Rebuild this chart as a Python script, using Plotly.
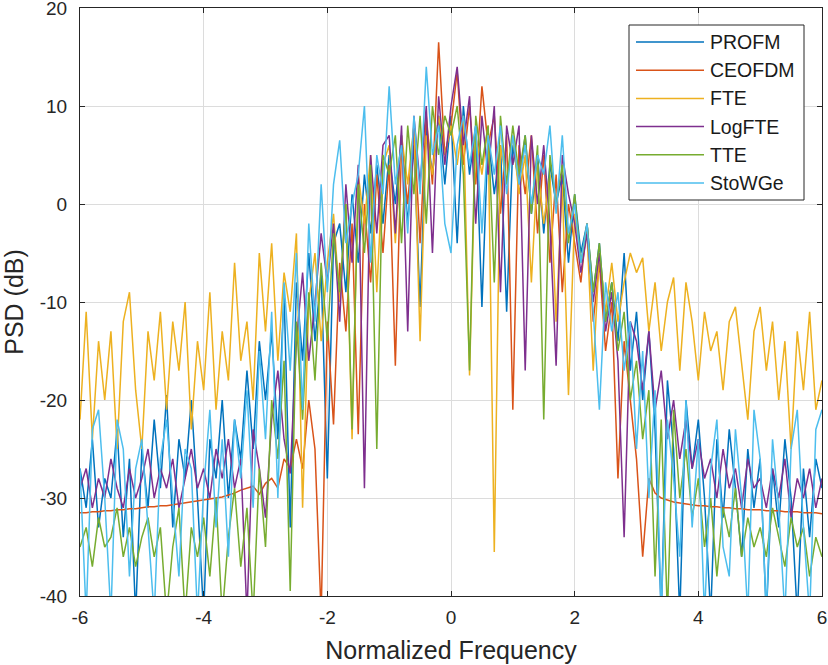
import numpy as np
import plotly.graph_objects as go

# Normalized frequency grid (-6 ... 6, step 0.1)
freq = np.round(np.arange(-60, 61) / 10.0, 1)

series_names = ["PROFM", "CEOFDM", "FTE", "LogFTE", "TTE", "StoWGe"]
series_colors = ["#0072BD", "#D95319", "#EDB120", "#7E2F8E", "#77AC30", "#4DBEEE"]

profm = [
    -27, -31, -24, -33, -28, -30, -23, -34, -26, -42,
    -25, -31, -22, -29, -19.5, -33, -24, -28, -20, -30,
    -42, -24, -28, -20, -30, -22, -26, -17, -25, -14,
    -20, -13, -24, -9, -33, -8, -16, -5, -14, -7,
    -28, -4, -2, -9, 1, -6, 3, -3, 4, -2,
    5, 0, 7, -2, 6, -10.5, 8, 3, 9, 2,
    9, -4, 10, 3, 8, -10.5, 7, 1, 6, -11,
    6, 2, 7, -1, 5, -3, 4, 0, 3, -6,
    1, -5, -2, -9, -4, -12, -8, -14, -5, -17,
    -11, -20, -13, -23, -42, -18, -25, -42, -20, -27,
    -22, -30, -42, -24, -32, -23, -29, -36, -25, -31,
    -26, -42, -27, -33, -24, -30, -42, -27, -34, -26,
    -29,
]

ceofdm = [
    -31.5, -31.5, -31.4, -31.4, -31.3, -31.3, -31.2, -31.2, -31.1, -31.1,
    -31.0, -30.9, -30.9, -30.8, -30.8, -30.7, -30.6, -30.5, -30.4, -30.3,
    -30.2, -30.1, -30.0, -29.9, -29.7, -29.5, -29.2, -29.0, -28.8, -29.6,
    -28.5, -28, -29, -26, -27, -24, -27, -20, -25, -42,
    -12, -22.5, -6, -13, -2, -23.5, 0, -8, 3, -5,
    4, -16.5, 6, 0, 8, -4, 9, 2, 16.5, 5,
    8, 13.5, 4, 10, 2, 12, 6, 9, -1, 7,
    -21, 6, 1, 7, -3, 5, -6, 3, -9, 0,
    -4, -8, -2, -12, -6, -15, -10, -28, -14, -20,
    -26, -36, -28, -29.5, -30.0, -30.2, -30.4, -30.5, -30.6, -30.7,
    -30.8, -30.8, -30.9, -30.9, -31.0, -31.0, -31.1, -31.1, -31.2, -31.2,
    -31.2, -31.3, -31.3, -31.3, -31.4, -31.4, -31.4, -31.5, -31.5, -31.5,
    -31.6,
]

fte = [
    -22, -11, -24, -14, -20, -13, -25, -12, -9, -19,
    -25, -13, -18, -11, -21, -12, -17, -10, -23, -14,
    -19, -9, -21, -13, -18, -6, -16, -12, -20, -5,
    -13, -4, -16, -7, -11, -3, -31, -10, -5, -14,
    -6, -1, -10, 0, -24, 3, -2, 5, -9, 4,
    6, -4, 7, 2, 8, -14, 7, 3, 9, 5,
    8, 4, 9, -17.5, 7, 3, 8, -35.5, 6, 2,
    7, 1, 5, -8, 4, -2, 3, -12, 2, -19.5,
    -1, -6, -3, -17, -5, -11, -6, -12, -8, -5,
    -7, -5.5, -13, -8, -15, -10, -7.5, -17, -8, -12,
    -18, -11, -15, -13, -19, -12, -10.5, -16, -22, -13,
    -10.5, -17, -12, -20, -14, -25, -13, -19, -11, -21,
    -18,
]

logfte = [
    -29, -27, -31, -28, -30, -26, -29, -31, -27, -30,
    -28, -25, -30, -27, -29, -26, -31, -28, -25, -29,
    -27, -30, -25, -28, -24, -29, -26, -42, -23, -27,
    -32, -22, -17, -24, -27.5, -14, -7, -16, -10, -3,
    -8, -2, -12, 2, -6, 4, -29, 5, -3, 6,
    7, -3, 8, -13, 9, 2, 10, -5, 11, 4,
    10, 14, 6, 11, -2, 9, 3, 10, -9, 8,
    4, 8, -17, 7, 0, 6, -2, -16.5, 5, 1,
    -2, -7, -3, -10, -5, -13, -9, -16, -34, -12,
    -14, -19, -13, -21, -17, -24, -20, -26, -22, -27,
    -24, -28, -26, -30, -25, -29, -27, -31, -26, -29,
    -28, -31, -27, -30, -26, -32, -28, -30, -27, -31,
    -28,
]

tte = [
    -35, -33, -37, -32, -35, -34, -31, -36, -33, -37,
    -34, -32, -36, -33, -42, -35, -31, -42, -33, -36,
    -32, -38, -30, -42, -34, -29, -37, -31, -42, -27,
    -35, -20, -26, -16, -39.5, -12, -22, -9, -18, -6,
    -14, -3, -9, 0, -23, 2, -5, 4, -25, 5,
    3, 7, -4, 8, 1, 9, -2, 10, 5, 9,
    7, 10, 3, -17, 9, 4, 8, -8, 9, 2,
    8, 3, 7, -1, 6, -22, 5, 0, 4, -4,
    1, -6, -2, -9, -4, -12, -8, -15, -11, -20,
    -16, -24, -19, -38, -22, -42, -21, -30, -25, -32,
    -28, -35, -30, -38, -31, -34, -29, -36, -32, -35,
    -33, -36, -31, -34, -37, -32, -35, -33, -38, -34,
    -36,
]

stowge = [
    -27, -42, -23, -21, -30, -42, -22, -25, -38, -27,
    -24, -33, -42, -26, -22, -30, -38, -25, -27, -42,
    -29, -21, -33, -24, -36, -22, -28, -19, -31, -15,
    -24, -11, -30, -8, -17, -5, -21, -2, -12, 2,
    -9, 2, 6.5, -4, 0, 3, 10, -6, 5, 1,
    12, 2, 6, -3, 9, 1, 14, 5, 8, -2,
    -5, 6, 9, 4, 8, -3, 7, 3, 8, 1,
    7, 2, 6, 0, 5, 3, 8, -1, 7, -3,
    0, -6, -2, -11, -21, -8, -13, -9, -17, -12,
    -25, -15, -30, -19, -42, -22, -28, -36, -20, -33,
    -24, -42, -27, -22, -35, -38, -23, -30, -42, -21,
    -26, -42, -24, -31, -42, -25, -21, -33, -42, -23,
    -21,
]

all_series = [profm, ceofdm, fte, logfte, tte, stowge]

x_tickvals = [-6, -4, -2, 0, 2, 4, 6]
x_ticktext = ["-6", "-4", "-2", "0", "2", "4", "6"]
y_tickvals = [-40, -30, -20, -10, 0, 10, 20]
y_ticktext = ["-40", "-30", "-20", "-10", "0", "10", "20"]

fig = go.Figure()
for name, color, vals in zip(series_names, series_colors, all_series):
    fig.add_trace(go.Scatter(x=freq, y=vals, mode="lines", name=name,
                             line=dict(color=color, width=1.5), showlegend=False))

# plot-area geometry in pixels (for the custom legend box)
W, H = 828, 665
L, R, T, B = 80, 6, 8, 69
PW, PH = W - L - R, H - T - B


def px2x(px):
    return (px - L) / PW


def py2y(py):
    return 1 - (py - T) / PH


axis_color = "#262626"
shapes = [dict(type="rect", xref="paper", yref="paper",
               x0=px2x(629), x1=px2x(804), y0=py2y(200), y1=py2y(25),
               line=dict(color=axis_color, width=1), fillcolor="white", layer="above")]
annotations = []
for i, (name, color) in enumerate(zip(series_names, series_colors)):
    yy = 42 + i * 28.2
    shapes.append(dict(type="line", xref="paper", yref="paper",
                       x0=px2x(636), x1=px2x(704), y0=py2y(yy), y1=py2y(yy),
                       line=dict(color=color, width=1.5), layer="above"))
    annotations.append(dict(xref="paper", yref="paper", x=px2x(708), y=py2y(yy),
                            text=name, showarrow=False, xanchor="left", yanchor="middle",
                            font=dict(size=19.5, color="#1a1a1a")))

fig.update_layout(
    width=W, height=H,
    margin=dict(l=L, r=R, t=T, b=B),
    paper_bgcolor="white", plot_bgcolor="white",
    font=dict(family="Liberation Sans, Arial, sans-serif", size=19, color=axis_color),
    showlegend=False,
    shapes=shapes, annotations=annotations,
)
fig.update_xaxes(range=[-6, 6], tickvals=x_tickvals, ticktext=x_ticktext,
                 showgrid=True, gridcolor="#dcdcdc", gridwidth=1, zeroline=False,
                 showline=True, linecolor=axis_color, linewidth=1, mirror="allticks",
                 ticks="inside", ticklen=5, tickcolor=axis_color,
                 ticklabelstandoff=4, automargin=False, ticklabeloverflow="allow",
                 title=dict(text="Normalized Frequency", font=dict(size=25), standoff=14))
fig.update_yaxes(range=[-40, 20], tickvals=y_tickvals, ticktext=y_ticktext,
                 showgrid=True, gridcolor="#dcdcdc", gridwidth=1, zeroline=False,
                 showline=True, linecolor=axis_color, linewidth=1, mirror="allticks",
                 ticks="inside", ticklen=5, tickcolor=axis_color,
                 ticklabelstandoff=8, automargin=False, ticklabeloverflow="allow",
                 title=dict(text="PSD (dB)", font=dict(size=25), standoff=10))

fig.write_html(
    "out.html",
    config={"displayModeBar": False},
    post_script="document.body.style.margin='0';document.body.style.overflow='hidden';",
)
